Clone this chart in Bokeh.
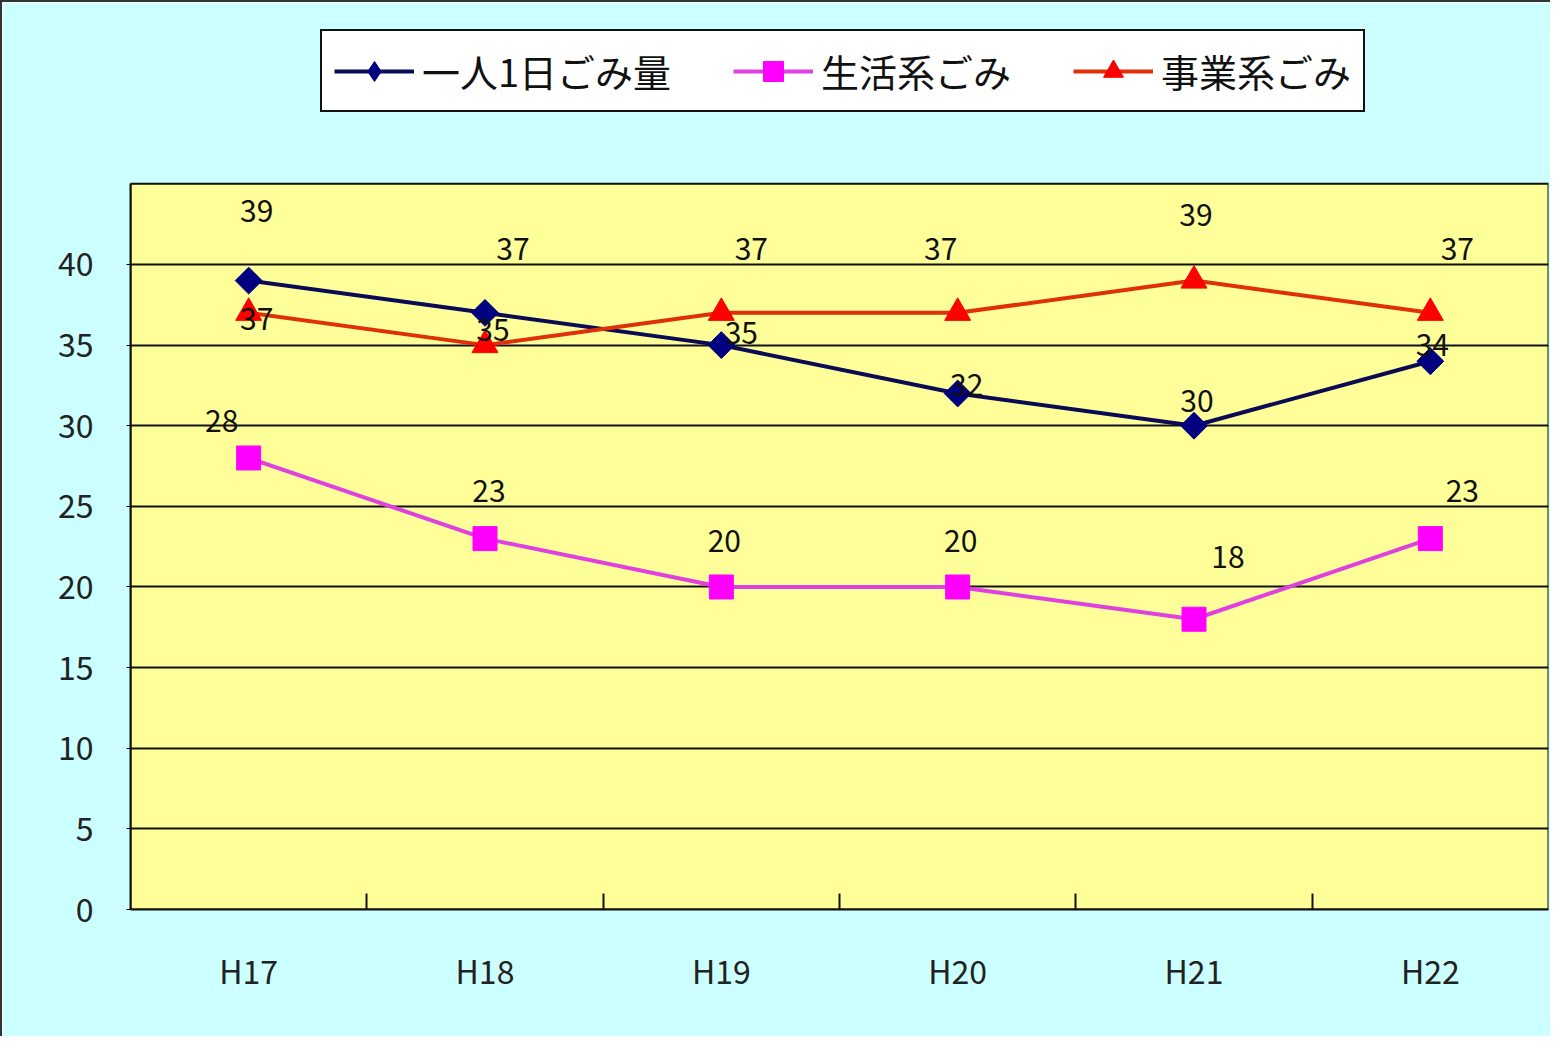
import math
from bokeh.plotting import figure
from bokeh.models import (Range1d, FixedTicker, Legend, LegendItem, ColumnDataSource,
                          BoxAnnotation)
from bokeh.core.properties import value
from bokeh.embed import file_html
from bokeh.resources import INLINE

# ---------------- data ----------------
categories = ["H17", "H18", "H19", "H20", "H21", "H22"]
per_person = [39, 37, 35, 32, 30, 34]      # 一人1日ごみ量
household = [28, 23, 20, 20, 18, 23]       # 生活系ごみ
business = [37, 35, 37, 37, 39, 37]        # 事業系ごみ
series_names = ["一人1日ごみ量", "生活系ごみ", "事業系ごみ"]
y_ticks = [0, 5, 10, 15, 20, 25, 30, 35, 40]
y_max = 45

# label offsets (pixels) — positions only
per_dx = [8, 28, 20, 9, 3, 2]
per_dy = [-70, -64, -12, -8, -25, -16]
hh_dx = [-27, 4, 3, 3, 34, 32]
hh_dy = [-37, -48, -46, -46, -62, -48]
bz_dx = [8, 8, 30, -17, 2, 27]
bz_dy = [6, -15, -64, -64, -66, -64]

FONT = "Noto Sans CJK JP"
xs = [i + 0.5 for i in range(len(categories))]
NAN = float("nan")

# frame extends above the plot area so the legend can sit inside it
p = figure(width=1550, height=1036, output_backend="svg", toolbar_location=None,
           x_range=Range1d(0, len(categories)), y_range=Range1d(0, 55.13),
           min_border_left=128, min_border_right=4, min_border_top=18,
           min_border_bottom=129)
p.background_fill_color = "#CCFFFF"
p.border_fill_color = "#CCFFFF"
p.outline_line_color = None
p.styles = {"border-left": "2px solid #333333", "border-top": "2px solid #333333"}

# plot area
p.add_layout(BoxAnnotation(left=0, right=len(categories), bottom=0, top=y_max,
                           fill_color="#FFFF99", fill_alpha=1,
                           line_color="#111111", line_alpha=1, line_width=2,
                           level="image"))

# axes
p.xaxis.ticker = FixedTicker(ticks=xs, minor_ticks=[i for i in range(1, len(categories))])
p.xaxis.major_label_overrides = {x: c for x, c in zip(xs, categories)}
p.xaxis.major_tick_in = 0
p.xaxis.major_tick_out = 0
p.xaxis.minor_tick_in = 16
p.xaxis.minor_tick_out = 0
p.xaxis.minor_tick_line_color = "#111111"
p.xaxis.minor_tick_line_width = 2
p.xaxis.axis_line_width = 2
p.xaxis.axis_line_color = "#111111"
p.xaxis.major_label_standoff = 37
p.xaxis.major_label_text_font = FONT
p.xaxis.major_label_text_font_size = "32px"
p.xaxis.major_label_text_color = "#222222"

p.yaxis.ticker = FixedTicker(ticks=y_ticks)
p.yaxis.bounds = (0, y_max)
p.yaxis.major_tick_in = 0
p.yaxis.major_tick_out = 4
p.yaxis.minor_tick_line_color = None
p.yaxis.axis_line_width = 2
p.yaxis.axis_line_color = "#111111"
p.yaxis.major_label_standoff = 33
p.yaxis.major_label_text_font = FONT
p.yaxis.major_label_text_font_size = "32px"
p.yaxis.major_label_text_color = "#222222"

p.xgrid.grid_line_color = None
p.ygrid.ticker = FixedTicker(ticks=y_ticks)
p.ygrid.grid_line_color = "#111111"
p.ygrid.grid_line_width = 2

# series
l1 = p.line(xs, per_person, line_color="#0A0A55", line_width=4)
s1 = p.scatter(xs, per_person, marker="square", angle=math.pi / 4, size=19,
               fill_color="#000080", line_color="#000080")
l2 = p.line(xs, household, line_color="#E040E0", line_width=4)
s2 = p.scatter(xs, household, marker="square", size=24,
               fill_color="#FF00FF", line_color="#FF00FF")
l3 = p.line(xs, business, line_color="#E0300A", line_width=4)
s3 = p.scatter(xs, business, marker="triangle", size=26,
               fill_color="#FF0000", line_color="#FF0000")
# legend-only marker (tall diamond as in the legend of the reference)
d1 = p.scatter([NAN], [NAN], marker="diamond", size=20,
               fill_color="#000080", line_color="#000080")

# data labels
for vals, dx, dy in ((per_person, per_dx, per_dy), (household, hh_dx, hh_dy),
                     (business, bz_dx, bz_dy)):
    src = ColumnDataSource(dict(x=xs, y=vals, t=[str(v) for v in vals], dx=dx, dy=dy))
    p.text(x="x", y="y", text="t", x_offset="dx", y_offset="dy", source=src,
           text_font=value(FONT), text_font_size="30px", text_color="#111111",
           text_align="center", text_baseline="middle")

legend = Legend(items=[LegendItem(label=series_names[0], renderers=[l1, d1]),
                       LegendItem(label=series_names[1], renderers=[l2, s2]),
                       LegendItem(label=series_names[2], renderers=[l3, s3])],
                orientation="horizontal", location=(190, 797))
legend.border_line_color = "#111111"
legend.border_line_alpha = 1
legend.border_line_width = 2
legend.background_fill_color = "white"
legend.background_fill_alpha = 1
legend.label_text_font = FONT
legend.label_text_font_size = "38px"
legend.label_text_color = "#111111"
legend.glyph_width = 80
legend.glyph_height = 50
legend.label_standoff = 8
legend.spacing = 62
legend.padding = 12
legend.margin = 0
p.add_layout(legend, "center")

open("out.html", "w").write(file_html(p, INLINE))
